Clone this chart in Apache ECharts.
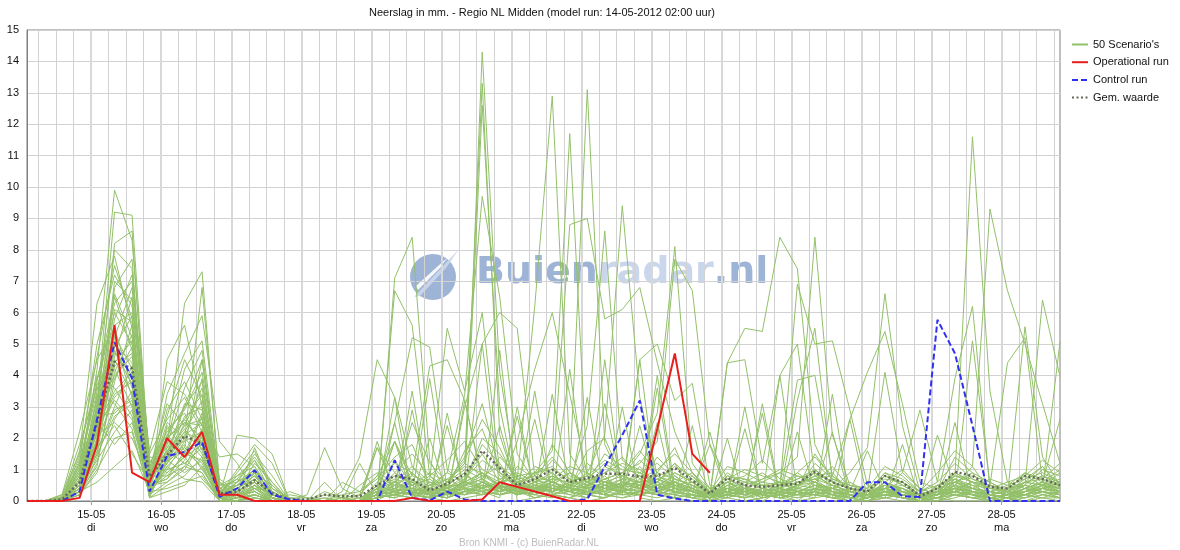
<!DOCTYPE html>
<html>
<head>
<meta charset="utf-8">
<title>Neerslag Regio NL Midden</title>
<script src="https://cdn.jsdelivr.net/npm/echarts@6/dist/echarts.min.js"></script>
<style>
  html, body { margin: 0; padding: 0; background: #fff; }
  #chart { width: 1180px; height: 550px; }
</style>
</head>
<body>
<div id="chart"></div>
<script>
// tijdstappen van 6 uur, vanaf 14-05 02:00 (uur 2) t/m 28-05 20:00 (uur 356)
const startHour = 2;
const stepHours = 6;
const endHour = 356;

const dayLabels = ['15-05', '16-05', '17-05', '18-05', '19-05', '20-05', '21-05',
  '22-05', '23-05', '24-05', '25-05', '26-05', '27-05', '28-05'];
const weekdayLabels = ['di', 'wo', 'do', 'vr', 'za', 'zo', 'ma',
  'di', 'wo', 'do', 'vr', 'za', 'zo', 'ma'];

const operationalRun = [0, 0, 0, 0.1, 1.8, 5.6, 0.9, 0.6, 2.0, 1.4, 2.2, 0.2, 0.2, 0, 0,
  0, 0, 0, 0, 0, 0, 0, 0.1, 0, 0, 0, 0.05, 0.6, 0.45, 0.3,
  0.15, 0, 0, 0, 0, 0, 2.3, 4.7, 1.5, 0.9];

const controlRun = [0, 0, 0, 0.3, 2.6, 5.05, 3.9, 0.3, 1.43, 1.56, 1.88, 0.13, 0.4, 0.98, 0.2,
  0.05, 0, 0, 0, 0, 0, 1.3, 0.1, 0.02, 0.3, 0.05, 0, 0, 0, 0,
  0, 0, 0.05, 1.1, 2.1, 3.2, 0.2, 0.08, 0, 0, 0, 0, 0, 0, 0,
  0, 0, 0, 0.6, 0.6, 0.15, 0.13, 5.77, 4.7, 2.4, 0, 0, 0, 0, 0];

const meanValue = [0, 0, 0.05, 0.6, 2.5, 4.44, 4.22, 0.77, 1.46, 2.07, 1.83, 0.24, 0.29, 0.66, 0.25,
  0.05, 0.05, 0.2, 0.15, 0.15, 0.5, 0.8, 0.7, 0.34, 0.55, 0.85, 1.6, 1.05, 0.5, 0.7,
  1.0, 0.6, 0.73, 0.87, 0.87, 0.77, 0.8, 1.05, 0.66, 0.24, 0.73, 0.5, 0.45, 0.5, 0.55,
  0.93, 0.6, 0.4, 0.3, 0.8, 0.6, 0.15, 0.4, 0.93, 0.8, 0.45, 0.4, 0.8, 0.7, 0.5];

// 50 ensemble-scenario's
const scenarios = [
  [0,0,0.1,0.8,4.2,9.9,8.3,1.2,2.1,3.0,4.5,0.3,0.5,1.0,0.2, 0.1,0,0,0,0.2, 0.8,1.9,0.6,0.1,0.3, 0.5,14.3,4.1,0.6,0.2, 0.4,0.3,0.1,0.5,0.9, 0.4,0.6,1.2,0.3,0, 0.2,0.1,0.3,0.1,0, 0.4,0.2,0,0.1,0.6, 0.3,0,0.2,0.7,0.4, 0.1,0,0.2,0.5,0.3],
  [0,0,0,0.5,3.1,9.2,9.1,1.0,1.5,2.4,3.6,0.2,0.4,0.8,0.1, 0,0,0.3,0.1,0, 0.2,0.5,0.3,0,0.6, 1.2,13.3,2.1,0.4,0.1, 0.3,0.6,0.2,0.1,0.4, 1.1,0.5,0.3,0.2,0.1, 0.5,0.2,0,0.3,0.5, 1.0,0.6,0.2,0,0.3, 0.1,0,0.3,1.4,0.9, 0.2,0.1,0.6,1.1,0.4],
  [0,0,0.2,1.5,6.3,7.8,5.5,0.8,1.8,6.3,7.3,0.4,0.2,0.5,0, 0,0,0,0,0, 0.1,7.1,8.4,1.3,0.2, 0.6,12.6,3.0,0.3,0.1, 0.2,0.1,0.5,0.8,0.3, 0.2,0.4,0.9,0.6,0.2, 0.1,0,0.1,0.2,0.4, 0.3,0.1,0,0,0.2, 0.1,0,0,0.4,0.3, 0,0,0.1,0.3,0.2],
  [0,0,0,0.6,2.8,8.2,8.6,0.6,3.4,4.7,5.9,1.9,1.2,0.3,0, 0.3,0.1,0,0,0, 0.4,0.6,1.1,0.4,0.9, 3.4,9.7,6.5,1.5,0.6, 0.9,0.3,0.2,0.1,0.3, 0.5,0.9,1.7,0.4,0.1, 0.6,0.3,0.2,0.4,0.3, 0.2,0.1,0.1,0.2,0.5, 0.4,0.1,0,0.2,0.1, 0,0.2,0.4,0.6,0.5],
  [0,0,0.1,1.2,5.0,7.2,6.2,1.5,2.6,3.3,2.2,0.1,0.2,1.7,0.4, 0.1,0,0.1,0,0, 0.2,0.3,0.4,0.2,0.1, 0.5,0.8,1.1,0.7,6.2, 12.9,1.5,0.6,0.3,0.5, 0.8,0.4,0.6,0.9,0.2, 0.3,0.1,0.2,0.1,0.2, 0.6,0.3,0.2,0.1,0.4, 0.5,0.2,0.1,0.3,0.1, 0.2,0.1,0.3,0.4,0.6],
  [0,0,0,0.3,1.8,6.8,7.7,0.4,1.2,2.0,6.8,0.6,0.1,0.2,0, 0,0,0,0,0.1, 0.3,0.2,0.1,0.3,0.4, 0.2,0.6,0.3,0.4,0.9, 1.6,11.7,0.8,0.5,0.2, 0.3,0.7,0.4,0.1,0, 0.4,0.2,0.3,0.5,0.9, 1.4,0.8,0.3,0.1,0.2, 0.1,0,0.5,0.6,0.3, 0.2,0.4,0.5,0.3,0.1],
  [0,0,0.05,0.9,3.8,6.5,4.8,0.3,4.5,5.6,3.0,0.2,2.1,2.0,1.5, 0,0,0,0,0, 0,0.4,0.2,0.1,0.5, 0.9,0.3,0.5,0.2,0.4, 0.6,8.8,9.0,5.8,6.1, 6.8,4.4,2.2,0.9,0.3, 0.2,0.1,0.3,0.2,0.1, 0.3,0.2,0.1,0,0.3, 0.4,0.1,0,0.2,0.2, 0.1,0,0.2,0.3,0.2],
  [0,0,0,0.4,2.2,5.8,7.2,1.3,0.9,1.4,2.7,0.1,0,0.4,0.3, 0,0,0.2,0.1,0, 0.1,0.2,0.4,0.8,0.3, 0.6,0.4,0.7,0.3,0.2, 0.5,0.9,13.1,1.8,0.6, 0.4,0.2,0.6,0.3,0.1, 0.2,0.4,0.1,0.3,0.5, 0.7,0.3,0.1,0.2,0.6, 0.4,0.1,0.3,0.5,0.2, 0,0.2,0.4,0.2,0.1],
  [0,0,0.2,2.2,4.5,5.5,3.6,0.9,1.9,4.2,5.1,0.5,0.8,1.3,0.2, 0,0,0,0.1,0.2, 1.7,0.9,0.5,0.2,0.1, 0.3,0.5,0.4,1.1,0.7, 0.4,0.6,2.4,8.6,1.3, 0.9,0.5,0.8,0.4,0.1, 0.3,0.2,0.4,0.6,0.3, 0.2,0.1,0.3,0.2,0.1, 0.2,0,0.1,0.3,0.6, 0.4,0.3,0.2,0.4,0.5],
  [0,0,0,0.7,3.3,5.2,6.8,0.7,2.3,2.8,1.6,0,0.3,0.6,0, 0,0,0.1,0,0, 0.2,0.3,0.6,0.4,0.2, 0.5,0.7,0.4,0.6,0.3, 0.8,0.5,0.9,2.1,9.4, 3.3,0.8,0.5,0.3,0.2, 0.6,0.3,0.2,0.4,0.7, 0.9,0.4,0.2,0.1,0.5, 0.3,0.1,0.2,0.6,0.4, 0.2,0.1,0.3,0.5,0.4],
  [0,0,0.1,1.0,2.6,4.9,5.9,0.2,1.1,1.7,4.5,0.3,0.1,0.9,0.5, 0,0,0,0,0, 0.1,0.5,0.8,0.6,0.4, 0.7,1.3,0.9,0.5,0.3, 0.6,0.4,0.7,1.2,0.8, 1.5,2.8,8.1,1.2,0.4, 0.3,0.5,0.2,0.1,0.3, 0.5,0.4,0.1,0,0.2, 0.3,0.1,0.2,0.9,0.6, 0.1,0,0.3,0.5,0.3],
  [0,0,0,0.5,1.5,4.6,6.5,1.6,3.8,3.4,2.4,1.4,1.5,1.1,0.1, 0,0,0,0,0, 0.2,0.1,0.3,0.2,0.4, 0.6,0.9,0.5,0.3,0.6, 0.4,0.3,0.5,0.7,0.9, 1.2,1.9,7.7,6.7,1.8, 0.7,0.4,0.3,0.2,0.5, 0.8,0.5,0.3,0.1,0.2, 0.2,0,0.1,0.4,0.3, 0.2,0.3,0.6,0.7,0.5],
  [0,0,0,0.3,2.0,4.4,5.1,0.5,0.6,1.0,1.9,0,0,0.2,0, 0.1,0.1,0,0,0, 0.3,0.2,0.1,0.4,0.7, 0.4,0.3,0.5,0.2,0.4, 0.3,0.5,0.2,0.4,0.6, 0.5,0.3,0.6,0.4,0.1, 4.4,5.5,5.4,8.4,7.4, 1.8,0.6,0.4,0.2,0.3, 0.4,0.1,0.2,0.3,0.2, 0.1,0.2,0.3,0.6,0.4],
  [0,0,0.15,1.8,3.6,4.2,3.0,0.1,1.4,2.2,3.2,0.2,0.4,0.7,0.1, 0,0,0,0,0, 0.1,0.2,0.3,0.1,0.2, 0.4,0.2,0.3,0.5,0.3, 0.6,0.4,0.3,0.2,0.5, 0.4,0.7,0.5,0.3,0.2, 0.3,0.4,0.6,0.9,1.4, 8.4,2.1,0.5,0.3,0.4, 0.6,0.2,0.1,0.5,0.3, 0.2,0.1,0.4,0.8,0.6],
  [0,0,0,0.6,2.9,4.0,4.6,1.1,2.0,2.5,2.0,0.1,0.6,1.5,0.8, 0,0,0,0,0.1, 0.4,0.6,0.3,0.2,0.1, 0.3,0.6,0.4,0.2,0.5, 0.3,0.2,0.4,0.6,0.3, 0.5,0.4,0.3,0.1,0.4, 0.6,0.3,0.2,0.5,0.8, 0.6,0.4,0.9,1.7,6.6, 2.4,0.3,0.2,0.4,0.6, 0.5,0.3,0.2,0.4,0.3],
  [0,0,0,0.2,1.2,3.8,5.6,0.8,1.6,1.2,0.9,0,0.2,0.3,0, 0,0,0,0,0, 0.1,0.3,3.5,0.1,0.3, 0.2,0.4,2.4,0.3,0.2, 0.5,0.3,0.4,3.1,0.4, 0.3,0.2,0.4,0.3,1.8, 0.2,0.1,0.3,0.4,0.2, 0.3,2.2,0.1,0.3,0.4, 0.2,0.1,0.3,0.8,11.6, 3.5,0.6,0.4,0.3,0.2],
  [0,0,0.1,1.1,4.0,3.6,2.7,0.4,0.8,1.5,2.8,0.7,0.3,0.1,0, 0,0,0,0,0, 0.2,1.9,0.2,0.3,0.2, 0.4,0.3,0.2,0.4,2.6, 0.2,0.4,0.3,0.5,0.2, 0.3,3.6,0.2,0.1,0.2, 0.1,0.3,2.8,0.1,0.3, 0.2,0.4,0.3,1.6,0.3, 0.2,0.1,0.2,0.5,1.1, 9.3,6.7,5.0,3.1,1.2],
  [0,0,0,0.4,2.4,3.5,4.1,0.6,2.9,3.8,2.6,0.2,1.0,1.8,1.2, 0,0.2,1.7,0.4,0.1, 0.3,0.6,0.4,0.2,0.3, 0.5,0.4,0.2,0.3,0.4, 0.3,0.6,0.5,0.4,0.7, 0.6,0.4,0.3,0.2,0.1, 0.3,0.2,0.4,0.3,0.5, 0.4,0.3,0.2,0.1,0.3, 0.3,0.2,0.4,0.6,0.4, 0.3,0.2,5.55,1.4,0.5],
  [0,0,0,0.8,1.9,3.3,3.9,1.4,1.3,0.9,1.3,0.1,0,0.5,0.2, 0,0,0,0.3,1.4, 4.5,3.3,1.1,0.6,0.4, 0.3,0.5,0.4,0.2,0.3, 0.6,0.4,0.2,0.3,0.5, 0.4,0.6,0.3,0.2,0.1, 0.2,0.3,0.5,0.4,0.2, 0.3,0.2,0.1,0.2,0.4, 0.2,0.1,0.3,0.2,0.3, 0.1,0.2,0.5,6.4,3.96],
  [0,0,0.05,0.5,3.4,3.1,2.3,0.2,1.7,2.6,1.8,0.4,0.5,0.9,0, 0,0,0,0,0, 0.2,6.7,5.6,0.8,0.4, 0.6,0.9,0.5,0.3,0.4, 0.5,0.3,0.6,0.4,0.3, 0.2,0.3,0.5,0.4,0.2, 0.3,0.4,0.2,0.3,0.2, 0.4,0.3,0.1,0.3,0.5, 0.3,0.2,0.3,0.4,0.3, 0.2,0.3,0.2,0.4,5.07],
  [0,0,0,0.3,1.6,3.0,4.3,0.9,1.0,1.9,3.9,0.3,0.7,0.4,0.1, 0,0,0,0,0, 0.5,2.5,5.2,4.9,1.0, 0.5,0.7,0.3,0.5,0.4, 0.3,0.5,0.4,0.2,0.6, 0.5,0.3,0.2,0.4,0.1, 0.2,0.4,0.3,0.2,0.3, 0.5,0.3,0.2,0.1,0.2, 0.3,0.1,0.2,0.4,0.2, 0.1,0.2,0.3,0.4,0.2],
  [0,0,0,1.3,2.7,2.8,3.3,0.3,2.4,1.6,1.1,0,0.1,0.2,0, 0,0,0,0,0, 0.3,1.9,0.8,4.3,4.5, 3.2,0.6,0.3,0.4,0.5, 0.4,0.3,0.2,0.5,0.4, 0.3,0.2,0.4,0.3,0.2, 0.4,0.3,0.2,0.1,0.3, 0.2,0.4,0.3,0.2,0.3, 0.4,0.2,0.3,0.2,0.1, 0.3,0.2,0.1,0.3,0.4],
  [0,0,0,0.2,0.9,2.6,3.5,0.5,0.7,1.3,2.3,0.2,0.3,1.2,0.6, 0,0,0,0,0, 0.1,1.3,0.5,0.7,5.5, 3.5,6.0,0.9,0.4,0.3, 0.5,0.4,0.3,0.6,0.4, 0.2,0.5,0.3,0.2,0.1, 0.3,0.2,0.4,0.3,0.2, 0.3,0.2,0.4,0.3,0.2, 0.2,0,0.1,0.3,0.4, 0.2,0.3,0.2,0.1,0.3],
  [0,0,0.1,0.9,2.1,2.5,2.0,0.7,1.5,3.1,2.9,0.1,0.2,0.6,0.1, 0,0,0,0,0, 0.3,0.4,0.6,0.3,0.2, 3.0,5.0,6.0,5.5,0.8, 0.6,0.4,0.3,0.5,0.3, 0.4,0.5,0.3,0.2,0.1, 0.2,0.3,0.2,0.4,0.3, 0.5,0.2,0.1,0.2,0.3, 0.2,0.1,0.2,0.3,0.2, 0.1,0.2,0.3,0.4,0.3],
  [0,0,0,0.4,1.3,2.2,2.9,0.1,0.5,0.8,1.4,0,0,0.1,0, 0,0,0,0,0, 0.2,0.3,0.2,0.4,0.3, 0.6,0.5,0.4,1.9,4.2, 6.0,3.4,0.8,0.6,0.5, 0.4,0.3,0.5,0.2,0.1, 0.3,0.2,0.3,0.2,0.4, 0.3,0.4,0.2,0.1,0.2, 0.3,0.1,0.2,0.4,0.3, 0.2,0.1,0.2,0.3,0.2],
  [0,0,0,0.6,2.5,1.8,2.5,0.4,1.2,1.8,1.0,0.2,0.4,0.8,0.3, 0,0,0,0,0, 0.1,0.2,0.4,0.3,0.6, 1.2,0.8,0.5,0.3,0.4, 0.7,0.6,0.8,0.5,0.4, 4.5,5.0,3.2,3.75,0.5, 0.4,0.3,0.2,0.3,0.2, 0.4,0.2,0.3,0.2,0.4, 0.3,0.1,0.2,0.3,0.2, 0.1,0.2,0.4,0.3,0.2],
  [0,0,0,0.3,0.6,1.1,1.6,0.3,0.4,0.6,0.8,0,0.1,0.3,0, 0,0,0,0,0, 0.2,0.4,0.3,0.2,0.3, 0.4,0.6,0.3,0.5,0.4, 0.3,0.5,0.7,0.6,0.5, 0.6,0.7,0.5,0.3,0.2, 4.4,4.5,1.2,4.0,5.0, 0.8,0.5,0.3,0.2,0.3, 0.2,0.1,0.3,0.4,0.3, 0.2,0.1,0.3,0.5,0.4],
  [0,0,0,0.7,1.7,2.4,1.5,0.6,1.9,1.4,0.7,0.1,0.6,1.0,0.4, 0,0,0,0,0, 0.3,0.2,0.3,0.4,0.2, 0.3,0.4,0.6,0.3,0.5, 0.4,0.3,0.5,0.4,0.3, 0.5,0.4,0.6,0.3,0.1, 0.4,0.3,0.5,0.4,6.9, 5.0,5.1,2.9,0.5,0.3, 0.2,0.1,0.2,0.3,0.2, 0.1,0.2,0.3,0.4,0.3],
  [0,0,0.05,1.6,3.9,6.0,5.0,0.2,1.3,2.1,2.5,0.3,0.2,0.4,0, 0,0,0,0,0, 0.2,0.3,0.2,0.1,0.3, 0.4,0.3,0.2,0.4,0.3, 0.2,0.4,0.3,0.3,0.2, 0.3,0.2,0.4,0.3,0.2, 0.2,0.4,0.3,0.5,3.85, 4.0,0.8,2.6,4.1,5.4, 3.1,0.6,0.4,0.3,0.2, 0.3,0.2,0.4,0.3,0.2],
  [0,0,0,0.4,2.3,7.0,6.4,0.9,2.7,4.5,3.3,0.2,0.9,1.6,0.3, 0,0,0,0,0, 0.3,0.2,0.4,0.3,0.2, 0.3,0.2,0.4,0.3,0.2, 0.4,0.3,0.2,0.4,0.3, 0.2,0.3,0.2,0.1,0.3, 0.4,0.2,0.3,0.2,3.2, 5.5,0.6,0.4,0.3,4.1, 0.9,2.9,0.6,3.9,6.2, 0.4,0.3,0.2,0.4,0.3],
  [0,0,0,0.5,3.0,5.3,4.2,0.3,1.0,1.2,1.7,0.1,0,0.2,0, 0,0,0,0,0, 0.1,0.2,0.1,2.0,0.2, 0.2,0.3,0.1,3.0,0.3, 0.2,0.1,0.3,0.2,0.2, 4.5,0.2,0.1,0.2,0.1, 0.2,2.3,0.2,0.3,0.2, 0.1,0.2,0.3,0.2,0.1, 0.2,0.1,0.3,0.2,5.1, 0.5,4.4,5.2,0.6,2.6],
  [0,0,0.1,1.1,3.5,6.3,7.0,1.2,2.2,2.9,4.1,0.6,0.3,0.7,0.1, 0,0,0,0,0, 0.2,0.1,0.3,0.5,0.3, 0.6,0.4,0.3,0.6,0.4, 0.3,0.5,0.4,0.3,0.6, 0.4,0.5,0.6,0.4,0.2, 0.3,0.2,0.4,0.3,0.2, 0.2,0.3,0.2,0.1,0.3, 0.2,0.1,0.2,0.3,0.4, 0.3,0.2,0.6,0.8,0.5],
  [0,0,0,0.3,1.9,4.8,3.7,0.5,1.6,2.3,1.5,0,0.1,0.5,0.2, 0,0,0,0,0, 0.1,3.3,0.1,0,2.8, 0.3,0.2,0.5,0.2,3.5, 0.2,0.1,0.3,0.2,0.1, 0.3,2.5,0.1,0.2,0, 0.1,3.0,0.1,0.2,0.3, 0.2,0.1,0,0.1,0.2, 0.1,0,0.1,0.2,0.1, 0,0.1,0.2,0.1,0.1],
  [0,0,0,0.8,2.6,3.9,4.9,0.8,0.8,1.1,2.1,0.2,0.4,0.9,0, 0,0,0,0.2,0.3, 0.8,0.5,0.4,0.3,0.6, 1.0,0.7,1.4,0.8,0.9, 1.1,0.6,0.8,1.3,1.0, 0.9,1.2,0.7,0.5,0.3, 0.8,0.6,0.5,0.4,0.6, 0.7,0.5,0.3,0.2,0.8, 0.5,0.2,0.4,0.9,0.6, 0.3,0.5,0.7,0.9,0.6],
  [0,0,0,0.2,1.4,2.9,3.2,0.2,1.4,1.7,1.2,0,0,0.1,0, 0,0,0,0,0, 0.4,0.8,0.6,0.2,0.5, 0.9,0.4,0.6,0.7,0.8, 1.4,0.7,0.5,0.9,1.2, 1.0,0.6,1.1,0.8,0.2, 0.5,0.7,0.4,0.6,0.5, 0.9,0.6,0.4,0.3,0.7, 0.6,0.2,0.3,0.7,0.5, 0.4,0.3,0.5,1.0,0.8],
  [0,0,0.1,1.4,4.6,7.5,5.8,1.0,3.1,2.4,2.6,0.4,0.7,1.4,0.6, 0,0,0,0,0, 0.6,1.2,0.9,0.3,0.4, 1.6,2.3,0.8,0.5,1.1, 0.9,0.4,1.6,2.0,0.7, 1.3,0.8,0.5,0.6,0.3, 1.1,0.9,0.6,0.5,0.4, 1.2,0.7,0.5,0.4,1.1, 0.8,0.3,0.6,1.2,0.7, 0.5,0.4,0.8,1.3,0.9],
  [0,0,0,0.5,2.0,5.6,6.0,0.6,1.8,3.6,4.8,0.3,0.2,0.3,0, 0,0,0.6,0,0, 0.2,0.3,0.5,0.7,0.3, 0.6,1.8,1.2,0.4,0.6, 1.3,0.8,0.6,0.9,1.4, 0.7,1.0,1.5,0.9,0.4, 0.6,0.8,1.3,0.7,0.5, 0.8,0.9,0.3,0.2,0.6, 1.0,0.4,0.2,0.6,0.9, 0.6,0.3,0.9,0.7,1.2],
  [0,0,0,0.3,1.1,4.1,5.3,0.4,0.9,1.4,1.8,0.1,0.5,0.6,0.1, 0,0,0,0,0.5, 0.9,0.6,0.3,0.5,0.7, 1.1,0.9,0.6,0.8,0.5, 0.7,1.1,0.9,0.6,0.8, 0.5,0.7,0.9,0.6,0.2, 0.9,0.5,0.7,1.0,0.8, 0.6,1.1,0.4,0.3,0.9, 0.7,0.3,0.5,0.8,0.6, 0.5,0.2,0.4,0.6,1.0],
  [0,0,0,0.6,2.4,3.2,2.6,0.3,1.1,0.7,0.6,0,0.1,0.4,0, 0.2,0.1,0,0.6,0.3, 0.7,1.4,1.8,0.5,0.9, 0.6,2.0,1.5,0.7,0.4, 1.8,0.9,0.6,1.5,1.1, 0.8,0.6,1.2,0.7,0.3, 0.7,1.0,0.8,0.6,0.4, 1.5,0.7,0.5,0.4,0.8, 0.6,0.3,0.9,1.6,1.1, 0.3,0.4,0.6,0.5,0.7],
  [0,0,0.05,0.9,3.2,4.5,3.4,0.7,2.5,2.0,1.4,0.2,0.8,1.1,0.3, 0,0,0,0,0, 0.3,0.9,1.5,0.8,1.3, 1.9,1.0,0.7,0.9,0.6, 0.8,0.5,1.2,0.7,0.9, 1.6,0.9,0.7,0.5,0.2, 0.4,0.6,0.9,0.5,0.7, 1.0,0.5,0.3,0.2,0.5, 0.4,0.2,0.4,0.6,0.8, 0.6,0.3,0.7,1.1,0.5],
  [0,0,0,0.4,1.7,5.0,4.4,0.5,0.7,1.6,2.0,0.1,0.1,0.2,0, 0,0,0,0,0, 0.2,0.6,2.5,1.2,0.6, 1.4,3.1,0.9,0.6,0.8, 0.6,0.9,0.5,1.1,0.8, 0.6,1.4,0.8,0.4,0.2, 0.6,0.4,0.7,0.9,0.6, 0.7,0.8,0.4,0.3,0.9, 0.5,0.2,0.3,0.8,0.7, 0.4,0.6,0.8,0.5,0.9],
  [0,0,0,0.7,2.8,6.6,5.2,0.8,2.0,2.6,3.4,0.5,0.6,1.3,0.5, 0,0,0,0,0, 0.4,0.7,0.5,0.9,0.6, 1.3,2.6,1.7,0.5,0.9, 1.0,0.7,0.4,0.6,0.5, 0.9,0.6,0.4,0.8,0.3, 0.8,0.7,0.5,0.4,0.9, 0.5,0.4,0.6,0.3,0.4, 0.9,0.4,0.2,0.5,0.4, 0.7,0.5,0.9,0.6,0.4],
  [0,0,0,0.2,1.0,2.0,2.2,0.2,0.6,1.1,0.9,0,0,0.2,0, 0,0,0,0,0, 1.7,0.3,0.2,3.9,0.4, 0.2,0.5,0.3,2.7,0.3, 0.4,0.2,0.1,4.5,0.2, 0.2,0.1,0.3,0.2,2.2, 0.1,0.3,0.2,0.1,0.2, 0.3,0.1,2.6,0.1,0.2, 0.1,0,0.1,0.2,0.1, 0.1,0,0.2,0.3,0.1],
  [0,0,0.1,1.2,3.7,4.7,4.0,1.1,1.7,1.9,2.2,0.2,0.3,0.6,0.1, 0,0,0,0,0, 0.2,0.1,2.9,0.2,0.1, 3.2,0.7,0.2,0.3,0.2, 0.1,4.2,0.2,0.1,0.3, 2.4,0.3,0.2,0.1,0, 0.2,0.1,3.1,0.2,0.1, 0.2,0.3,0.1,0,0.1, 1.8,0,0,0.1,0.3, 0.2,0.1,0,0.2,0.1],
  [0,0,0,0.5,2.2,3.4,3.8,0.4,1.3,2.7,3.0,0.1,0.4,0.8,0.2, 0,0,0,0,0, 0.3,0.5,0.9,0.4,0.2, 0.7,1.5,0.6,0.4,0.7, 0.5,0.9,0.6,0.4,0.3, 0.7,0.5,0.3,0.4,0.1, 0.5,0.3,0.4,0.3,0.5, 0.6,0.2,0.4,0.1,0.3, 0.4,0.1,0.5,0.7,0.4, 0.3,0.2,0.5,0.4,0.6],
  [0,0,0,0.3,1.5,2.7,3.1,0.1,0.3,0.5,1.1,0,0,0.1,0, 0,0,0,0,0, 0,2.5,0.2,0.1,0, 0.1,0.2,4.8,0,0.1, 0.2,0.1,0,0.1,3.0, 0.1,0,0.1,0,0, 2.0,0,0.1,0.2,0, 0.1,3.4,0,0,0.1, 0,0,0.1,0,0, 0,0.1,0,0.1,0],
  [0,0,0,1.0,3.0,8.0,7.4,0.9,1.6,2.2,1.9,0.3,0.2,0.5,0, 0,0,0,0,0, 0.5,0.3,0.2,0.6,0.4, 0.8,0.6,0.3,0.5,0.9, 0.6,0.3,0.5,0.7,0.4, 0.6,0.3,0.7,0.5,0.1, 0.3,0.5,0.2,0.3,0.4, 0.6,0.3,0.2,0.1,0.4, 0.3,0,0.2,0.6,0.5, 0.2,0.1,0.4,0.6,0.3],
  [0,0,0,0.6,2.5,6.1,5.7,0.7,1.4,3.0,3.8,0.2,0.5,1.0,0.2, 0,0,0,0,0, 0.2,0.4,0.7,0.3,0.5, 0.5,0.9,0.4,0.2,0.5, 0.3,0.6,0.4,0.5,0.7, 0.4,0.8,0.6,0.4,0.2, 0.4,0.3,0.5,0.6,0.3, 0.4,0.5,0.3,0.2,0.5, 0.3,0.1,0.4,0.5,0.3, 0.2,0.3,0.6,0.5,0.4],
  [0,0,0.05,0.4,1.8,4.3,4.7,0.5,2.1,1.5,1.3,0.1,0.3,0.7,0.1, 0,0,0,0,1.2, 0.2,0.3,0.4,0.2,2.4, 0.4,0.3,0.5,0.4,0.3, 3.4,0.4,0.3,0.6,0.4, 0.3,4.0,0.4,0.3,0.1, 0.3,0.4,0.3,0.2,2.2, 0.3,0.4,0.2,0.1,0.3, 0.2,0.1,2.1,0.4,0.2, 0.3,0.2,0.3,0.5,0.2],
  [0,0,0,0.8,2.9,5.1,3.3,0.3,1.2,2.5,2.4,0.2,0.6,0.9,0, 0,0,0,0,0, 1.9,0.2,0.3,0.2,0.1, 0.3,5.0,0.4,0.2,0.3, 0.2,0.3,3.3,0.2,0.1, 0.2,0.3,0.1,2.4,0, 0.2,0.3,0.1,4.0,0.3, 0.2,0.1,0.2,0.1,0.2, 0.1,0,0.2,2.5,0.2, 0.1,0.2,0.1,0.2,0.3]
];

// categorie-as met een stap per uur, zodat de rasterlijnen op 00/06/12/18 uur vallen
const hours = [];
for (let h = startHour; h <= endHour; h++) hours.push(String(h));

const toPoints = values => values.map((v, i) => [i * stepHours, v]);
const isDay = v => Number(v) % 24 === 0;
const isQuarter = v => Number(v) % 6 === 0;

const font = 'Liberation Sans, Arial, sans-serif';
const scenarioName = "50 Scenario's";

const series = scenarios.map(row => ({
  name: scenarioName,
  type: 'line',
  symbol: 'none',
  silent: true,
  z: 2,
  lineStyle: { color: '#93c06a', width: 1 },
  itemStyle: { color: '#93c06a' },
  data: toPoints(row)
}));

series.push({
  name: 'Gem. waarde',
  type: 'line',
  symbol: 'none',
  z: 3,
  lineStyle: { color: '#66665a', width: 2.5, type: [2, 2.5] },
  itemStyle: { color: '#66665a' },
  data: toPoints(meanValue)
});
series.push({
  name: 'Control run',
  type: 'line',
  symbol: 'none',
  z: 4,
  lineStyle: { color: '#3030f0', width: 2, type: [6, 3] },
  itemStyle: { color: '#3030f0' },
  data: toPoints(controlRun)
});
series.push({
  name: 'Operational run',
  type: 'line',
  symbol: 'none',
  z: 5,
  lineStyle: { color: '#e81e1e', width: 2 },
  itemStyle: { color: '#e81e1e' },
  data: toPoints(operationalRun)
});

const chart = echarts.init(document.getElementById('chart'));

chart.setOption({
  animation: false,
  backgroundColor: '#ffffff',
  title: [{
    text: 'Neerslag in mm. - Regio NL Midden (model run: 14-05-2012 02:00 uur)',
    left: 542,
    top: 7,
    padding: 0,
    textAlign: 'center',
    textStyle: { fontSize: 11, fontWeight: 'normal', color: '#111', fontFamily: font }
  }, {
    text: 'Bron KNMI - (c) BuienRadar.NL',
    left: 529,
    top: 538,
    padding: 0,
    textAlign: 'center',
    textStyle: { fontSize: 10, fontWeight: 'normal', color: '#bdbdbd', fontFamily: font }
  }],
  legend: {
    orient: 'vertical',
    left: 1071,
    top: 39,
    padding: 0,
    itemWidth: 16,
    itemHeight: 11,
    itemGap: 6.7,
    itemStyle: { opacity: 0 },
    textStyle: { fontSize: 11, color: '#111', fontFamily: font },
    data: [scenarioName, 'Operational run', 'Control run', 'Gem. waarde']
  },
  grid: {
    left: 27,
    right: 120,
    top: 30,
    bottom: 49,
    show: true,
    borderColor: '#808080',
    borderWidth: 1,
    containLabel: false
  },
  xAxis: [{
    type: 'category',
    data: hours,
    boundaryGap: false,
    axisLine: { lineStyle: { color: '#808080' } },
    axisTick: { interval: (i, v) => isDay(v), length: 4, lineStyle: { color: '#a0a0a0' } },
    axisLabel: {
      interval: (i, v) => isDay(v),
      margin: 7,
      fontSize: 11,
      lineHeight: 13,
      color: '#111',
      fontFamily: font,
      formatter: v => {
        const d = Number(v) / 24 - 1;
        return dayLabels[d] + '\n' + weekdayLabels[d];
      }
    },
    splitLine: { show: true, interval: (i, v) => isQuarter(v), lineStyle: { color: '#d2d2d2', width: 1 } }
  }, {
    type: 'category',
    data: hours,
    boundaryGap: false,
    position: 'bottom',
    axisLine: { show: false },
    axisTick: { show: false },
    axisLabel: { show: false },
    splitLine: { show: true, interval: (i, v) => isDay(v), lineStyle: { color: '#d8d8d8', width: 2 } }
  }],
  yAxis: {
    type: 'value',
    min: 0,
    max: 15,
    interval: 1,
    axisLine: { show: true, lineStyle: { color: '#808080' } },
    axisTick: { show: false },
    axisLabel: { fontSize: 11, color: '#111', margin: 8, fontFamily: font },
    splitLine: { lineStyle: { color: '#d2d2d2', width: 1 } }
  },
  graphic: [{
    type: 'group',
    z: 50,
    silent: true,
    children: [{
      type: 'circle',
      shape: { cx: 433, cy: 277, r: 23 },
      style: { fill: '#94acd2', opacity: 0.9 }
    }, {
      type: 'polygon',
      shape: { points: [[414, 297], [459, 249], [446, 268], [420, 296]] },
      style: { fill: '#c9d6ec', opacity: 0.95 }
    }, {
      type: 'polygon',
      shape: { points: [[416, 286], [448, 257], [440, 268], [418, 290]] },
      style: { fill: '#ffffff', opacity: 0.9 }
    }, {
      type: 'text',
      x: 476,
      y: 292,
      style: {
        text: '{a|Buien}{b|radar}{a|.nl}',
        textVerticalAlign: 'bottom',
        rich: {
          a: { fill: '#94acd2', font: 'bold 38px DejaVu Sans' },
          b: { fill: '#c4d2ea', font: 'bold 38px DejaVu Sans' }
        },
        opacity: 0.9
      }
    }]
  }],
  series: series
});
</script>
</body>
</html>
